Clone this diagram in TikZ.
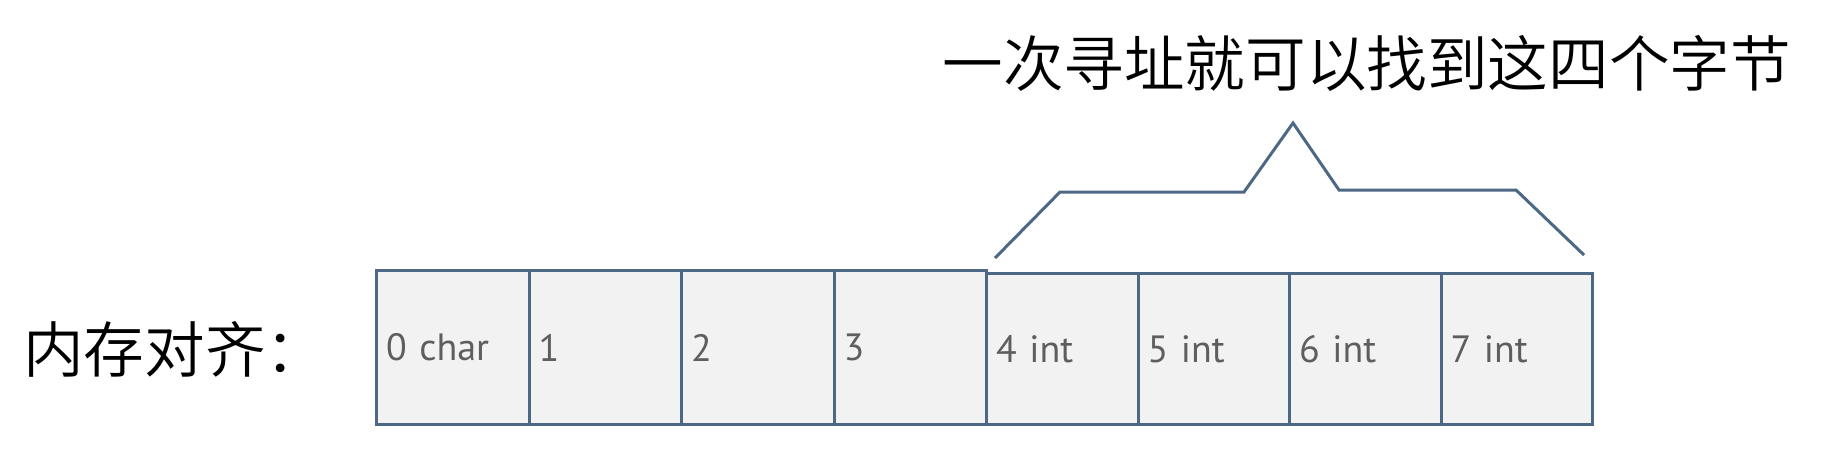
\documentclass[tikz,border=0pt]{standalone}
\usepackage{fontspec}
\setmainfont{PT Sans}
\newfontfamily\cjk{Noto Sans CJK SC}[UprightFont={* DemiLight}]
\definecolor{edgecol}{HTML}{4D6884}
\definecolor{cellfill}{HTML}{F2F2F2}
\definecolor{celltext}{HTML}{5E5E5E}
\begin{document}
\begin{tikzpicture}[x=0.5pt,y=-0.5pt,
  cellA/.style={draw=edgecol, fill=cellfill, line width=1.5pt, anchor=north west,
    minimum width=76.25pt, minimum height=77pt, inner xsep=4.8pt, inner ysep=0pt,
    text width=66.65pt, align=left, text=celltext, font=\fontsize{19pt}{22pt}\selectfont},
  cellB/.style={cellA, minimum width=75.75pt, text width=66.15pt, minimum height=75.5pt},
  cjktext/.style={inner sep=0pt, anchor=west, text=black, font=\cjk\fontsize{30.3pt}{36pt}\selectfont},
  brace/.style={draw=edgecol, line width=1.5pt, line join=miter}]
\useasboundingbox (0,0) rectangle (1840,473);
% memory cells, first group
\node[cellA] (c0) at (375,269) {0 char};
\node[cellA] (c1) at (527.5,269) {1};
\node[cellA] (c2) at (680,269) {2};
\node[cellA] (c3) at (832.5,269) {3};
% second group
\node[cellB] (c4) at (985,272) {4 int};
\node[cellB] (c5) at (1136.5,272) {5 int};
\node[cellB] (c6) at (1288,272) {6 int};
\node[cellB] (c7) at (1439.5,272) {7 int};
% labels
\node[cjktext] (label) at (23,349.5) {内存对齐：};
\node[cjktext] (title) at (942,63.5) {一次寻址就可以找到这四个字节};
% bracket
\coordinate (b1) at (995,258);
\coordinate (b2) at (1060,192);
\coordinate (b3) at (1244,192);
\coordinate (b4) at (1293,123);
\coordinate (b5) at (1339,190);
\coordinate (b6) at (1516,190);
\coordinate (b7) at (1584,255);
\draw[brace] (b1) -- (b2) -- (b3) -- (b4) -- (b5) -- (b6) -- (b7);
\end{tikzpicture}
\end{document}
